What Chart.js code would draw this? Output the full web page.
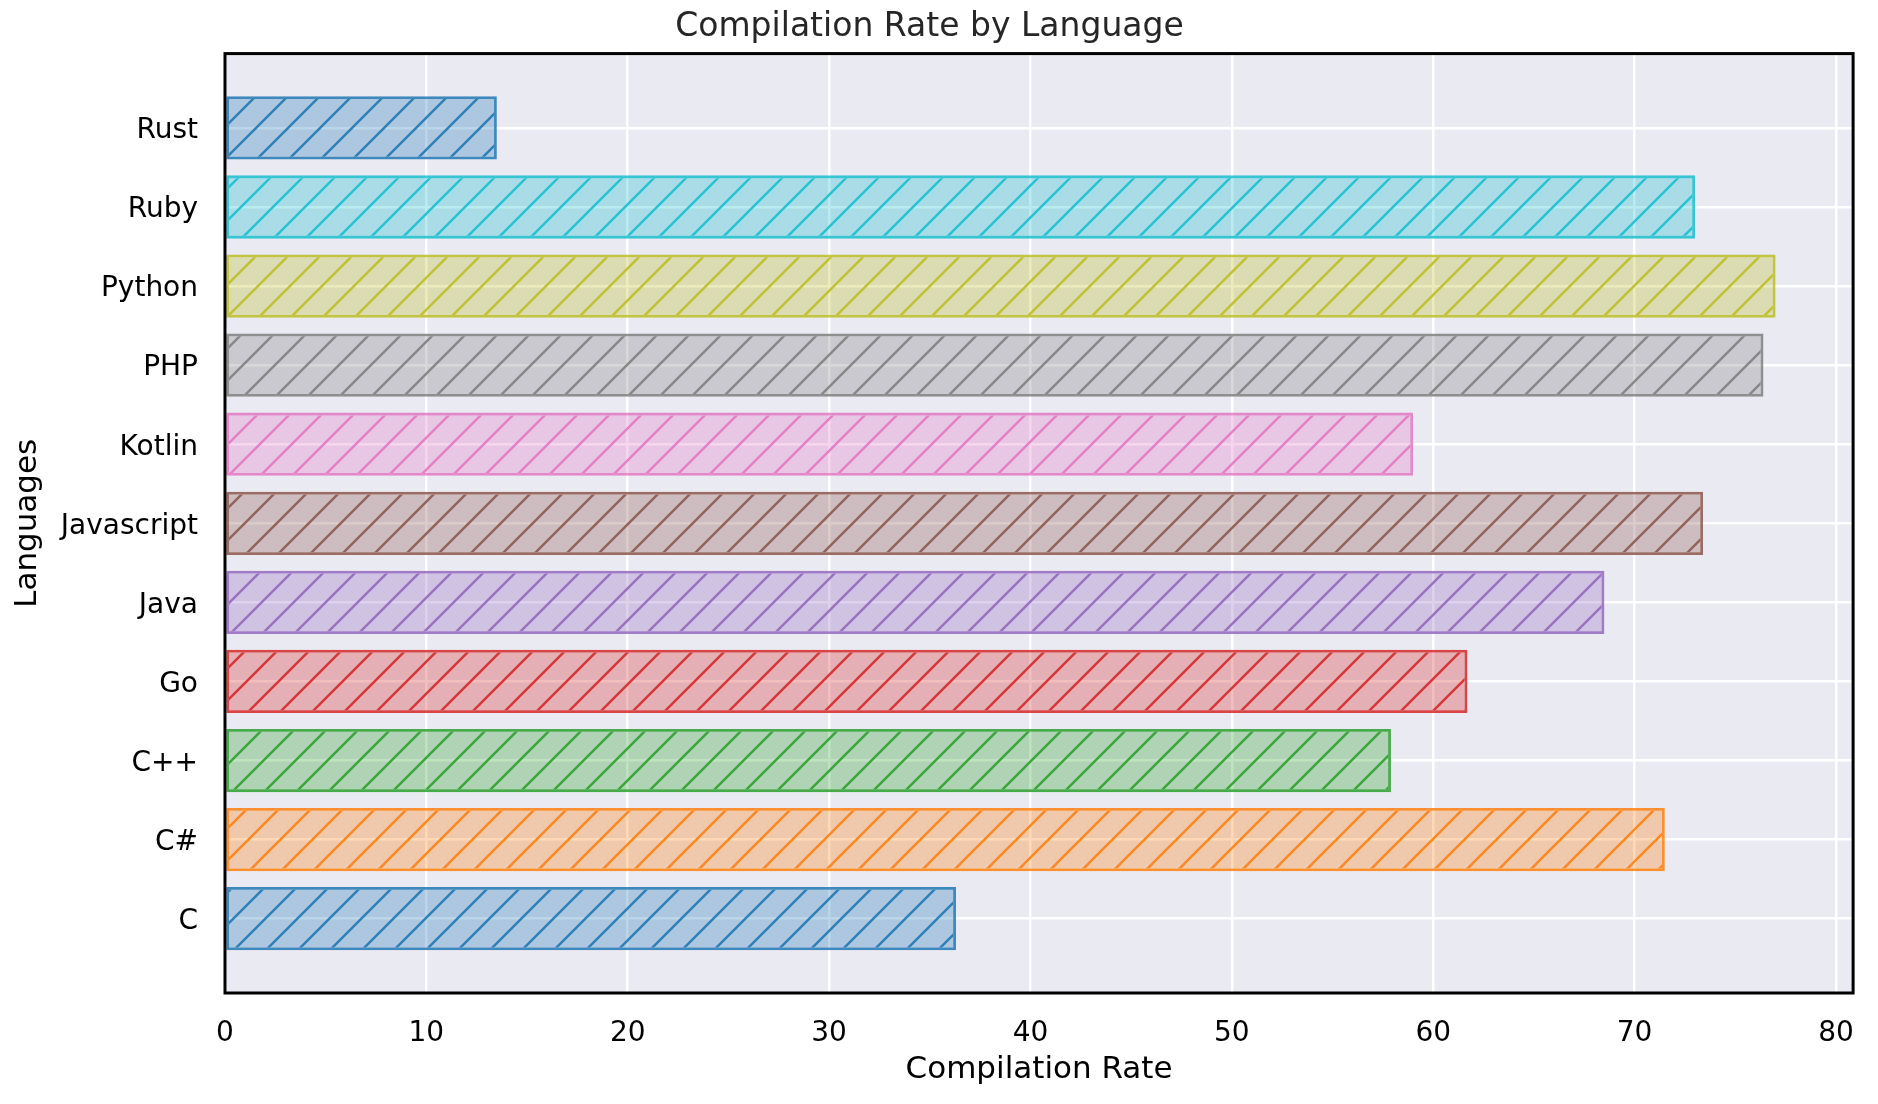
<!DOCTYPE html>
<html>
<head>
<meta charset="utf-8">
<title>Compilation Rate by Language</title>
<script src="https://cdn.jsdelivr.net/npm/chart.js@4"></script>
<style>
  html, body { margin: 0; padding: 0; background: #ffffff; }
  canvas { display: block; }
</style>
</head>
<body>
<canvas id="rateChart" width="1878" height="1104"></canvas>
<script>
// dati (dal basso verso l'alto)
const languages = ['C', 'C#', 'C++', 'Go', 'Java', 'Javascript', 'Kotlin', 'PHP', 'Python', 'Ruby', 'Rust'];
const compilationRates = [36.3, 71.5, 57.9, 61.7, 68.5, 73.4, 59.0, 76.4, 77.0, 73.0, 13.5];
const xTicks = [0, 10, 20, 30, 40, 50, 60, 70, 80];

// palette tab10, ripetuta dopo il decimo colore
const tab10 = [
  [31, 119, 180], [255, 127, 14], [44, 160, 44], [214, 39, 40], [148, 103, 189],
  [140, 86, 75], [227, 119, 194], [127, 127, 127], [188, 189, 34], [23, 190, 207]
];

function rgba(c, a) {
  return `rgba(${c[0]}, ${c[1]}, ${c[2]}, ${a})`;
}

// tratteggio "/" come nel grafico originale
function hatchPattern(c) {
  const size = 32;
  const off = document.createElement('canvas');
  off.width = size;
  off.height = size;
  const g = off.getContext('2d');
  g.fillStyle = rgba(c, 0.3);
  g.fillRect(0, 0, size, size);
  g.strokeStyle = rgba(c, 0.9);
  g.lineWidth = 2.4;
  for (const d of [-size, 0, size]) {
    g.beginPath();
    g.moveTo(d - 2, size + 2);
    g.lineTo(d + size + 2, -2);
    g.stroke();
  }
  return g.createPattern(off, 'repeat');
}

const barColors = languages.map((_, i) => tab10[i % tab10.length]);

const plotBackground = {
  id: 'plotBackground',
  beforeDraw(chart) {
    const { ctx, chartArea: a } = chart;
    ctx.save();
    ctx.fillStyle = '#eaeaf2';
    ctx.fillRect(a.left, a.top, a.right - a.left, a.bottom - a.top);
    ctx.restore();
  },
  afterDraw(chart) {
    const { ctx, chartArea: a } = chart;
    ctx.save();
    ctx.strokeStyle = '#000000';
    ctx.lineWidth = 3;
    ctx.strokeRect(a.left, a.top, a.right - a.left, a.bottom - a.top);
    ctx.restore();
  }
};

const ctx = document.getElementById('rateChart').getContext('2d');

const chart = new Chart(ctx, {
  type: 'bar',
  data: {
    datasets: [{
      label: 'Compilation Rate',
      data: compilationRates.map((v, i) => ({ x: v, y: i })),
      backgroundColor: barColors.map(hatchPattern),
      borderColor: barColors.map(c => rgba(c, 0.85)),
      borderWidth: 2.8,
      borderSkipped: false,
      categoryPercentage: 0.8,
      barPercentage: 1.0
    }]
  },
  options: {
    indexAxis: 'y',
    responsive: false,
    animation: false,
    devicePixelRatio: 1,
    layout: { padding: { left: 0, right: 19, top: 0, bottom: 0 } },
    plugins: {
      legend: { display: false },
      tooltip: { enabled: false },
      title: {
        display: true,
        text: 'Compilation Rate by Language',
        color: '#262626',
        font: { family: 'DejaVu Sans', size: 33, weight: 'normal' },
        padding: { top: 8, bottom: 6 }
      }
    },
    scales: {
      x: {
        type: 'linear',
        min: 0,
        max: 80.85,
        afterBuildTicks: s => { s.ticks = xTicks.map(v => ({ value: v })); },
        afterFit: s => { s.height = 111; },
        grid: { color: '#ffffff', lineWidth: 2.5, drawTicks: false },
        border: { display: false },
        ticks: {
          color: '#000000',
          padding: 24,
          font: { family: 'DejaVu Sans', size: 28 }
        },
        title: {
          display: true,
          text: 'Compilation Rate',
          color: '#000000',
          font: { family: 'DejaVu Sans', size: 31 },
          padding: { top: 0, bottom: 15 }
        }
      },
      y: {
        type: 'linear',
        min: -0.94,
        max: 10.94,
        offset: false,
        afterBuildTicks: s => { s.ticks = languages.map((_, i) => ({ value: i })); },
        afterFit: s => { s.width = 225; },
        grid: { color: '#ffffff', lineWidth: 2.5, drawTicks: false, offset: false },
        border: { display: false },
        ticks: {
          color: '#000000',
          padding: 27,
          labelOffset: 3,
          font: { family: 'DejaVu Sans', size: 28 },
          callback: v => languages[v]
        },
        title: {
          display: true,
          text: 'Languages',
          color: '#000000',
          font: { family: 'DejaVu Sans', size: 31 },
          padding: { top: 9, bottom: 0 }
        }
      }
    }
  },
  plugins: [plotBackground]
});
</script>
</body>
</html>
